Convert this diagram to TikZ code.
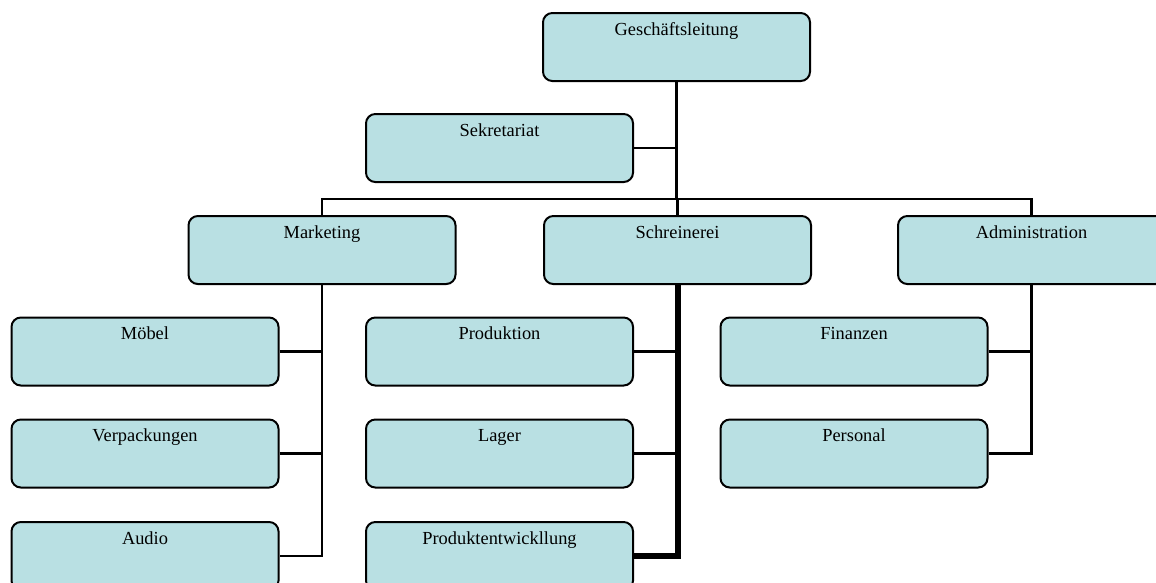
\documentclass[tikz,border=0pt]{standalone}
\usepackage{fontspec}
\setmainfont{Liberation Serif}
\definecolor{boxfill}{RGB}{185,224,227}
\begin{document}
\begin{tikzpicture}[x=0.75pt,y=-0.75pt,
  orgbox/.style={draw=black, line width=1.5pt, fill=boxfill, rounded corners=7pt,
    minimum width=200.25pt, inner xsep=0pt, inner ysep=0pt,
    text height=16.5pt, text depth=34.5pt, font=\fontsize{13.8pt}{16pt}\selectfont},
  link/.style={draw=black, line width=1.9pt},
  thicklink/.style={draw=black, line width=4.5pt, line join=miter}]
\useasboundingbox (0,0) rectangle (1156,582);
% boxes
\node[orgbox] (G)   at (676.5,47)  {Geschäftsleitung};
\node[orgbox] (S)   at (499.5,148) {Sekretariat};
\node[orgbox] (M)   at (322,250)   {Marketing};
\node[orgbox] (Sch) at (677.5,250) {Schreinerei};
\node[orgbox] (Adm) at (1031.5,250) {Administration};
\node[orgbox] (Mo)  at (145,351.5) {Möbel};
\node[orgbox] (Ve)  at (145,453.5) {Verpackungen};
\node[orgbox] (Au)  at (145,556)   {Audio};
\node[orgbox] (Pr)  at (499.5,351.5) {Produktion};
\node[orgbox] (La)  at (499.5,453.5) {Lager};
\node[orgbox] (PE)  at (499.5,556)   {Produktentwickllung};
\node[orgbox] (Fi)  at (854,351.5)   {Finanzen};
\node[orgbox] (Pe)  at (854,453.5)   {Personal};
\coordinate (bar) at (677,199);
% top connectors
\draw[link] (G.south) -- (G.south |- bar);
\draw[link] (S.east) -- (S.east -| G.south);
\draw[link] (M.north) -- (M.north |- bar) -- (Adm.north |- bar) -- (Adm.north);
\draw[link] (Sch.north |- bar) -- (Sch.north);
% Marketing
\draw[link] (M.south) -- (M.south |- Au.east) -- (Au.east);
\draw[link] (Mo.east) -- (Mo.east -| M.south);
\draw[link] (Ve.east) -- (Ve.east -| M.south);
% Schreinerei
\draw[link] (Pr.east) -- (Pr.east -| Sch.south);
\draw[link] (La.east) -- (La.east -| Sch.south);
\draw[thicklink] (Sch.south) -- (Sch.south |- PE.east) -- (PE.east);
% Administration
\draw[link] (Adm.south) -- (Adm.south |- Pe.east) -- (Pe.east);
\draw[link] (Fi.east) -- (Fi.east -| Adm.south);
\end{tikzpicture}
\end{document}
